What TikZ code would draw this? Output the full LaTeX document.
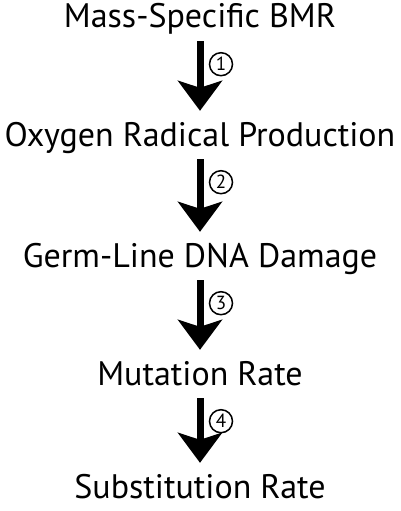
\documentclass[tikz,border=0pt]{standalone}
\usepackage{fontspec}
\setmainfont{PT Sans}
\usetikzlibrary{arrows.meta}

\begin{document}
\begin{tikzpicture}[x=1pt, y=-1pt,
    stage/.style={font=\fontsize{34}{40}\selectfont, inner sep=0pt, text height=22pt, text depth=7pt, anchor=base},
    flow/.style={line width=7pt, -{Stealth[length=30pt, width=44pt, inset=7pt]}, shorten <=6pt, shorten >=13pt},
    num/.style={circle, draw, line width=1.5pt, minimum size=23pt, inner sep=0pt, font=\fontsize{19}{19}\selectfont}]

    \useasboundingbox (0, 0) rectangle (400, 511);

    \node[stage] (bmr) at (200, 28) {Mass-Specific BMR};
    \node[stage] (ros) at (200, 146) {Oxygen Radical Production};
    \node[stage] (dna) at (200, 267) {Germ-Line DNA Damage};
    \node[stage] (mut) at (200, 385) {Mutation Rate};
    \node[stage] (sub) at (200, 498) {Substitution Rate};

    \foreach \a/\b/\i in {bmr/ros/1, ros/dna/2, dna/mut/3, mut/sub/4} {
        \draw[flow] (\a) -- (\b);
        \node[num] (n\i) at ([xshift=21pt, yshift=-29pt]\a.south) {\i};
    }
\end{tikzpicture}
\end{document}
